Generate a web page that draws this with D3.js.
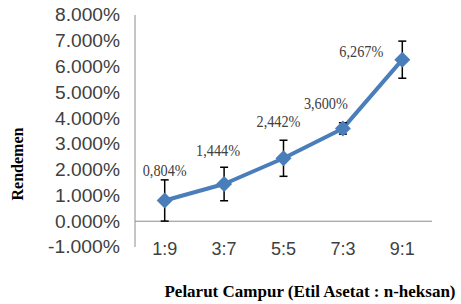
<!DOCTYPE html>
<html><head><meta charset="utf-8">
<script src="https://cdn.jsdelivr.net/npm/d3@7"></script>
<style>body{margin:0;background:#fff}svg{display:block}</style>
</head><body>
<svg id="c" width="461" height="304"></svg>
<script>
const categories = ["1:9","3:7","5:5","7:3","9:1"];
const values = [0.804, 1.444, 2.442, 3.600, 6.267];
const errors = [0.80, 0.65, 0.70, 0.22, 0.72];
const valueLabels = ["0,804%","1,444%","2,442%","3,600%","6,267%"];
const yTicks = [-1,0,1,2,3,4,5,6,7,8];
const labelOffsets = [[0,-24],[-6,-28],[-5,-31],[-17,-19],[-41,-3]];

const svg = d3.select("#c");
const x = d3.scaleBand().domain(categories).range([135,432]);
const y = d3.scaleLinear().domain([-1,8]).range([247,15]);
const col = "#4a7ebb";
const sans = "'Liberation Sans', Arial, sans-serif";
const serif = "'Liberation Serif', 'Times New Roman', serif";
const fmt = d3.formatLocale({decimal:".",thousands:",",grouping:[3],currency:["",""],minus:"-"}).format(".3f");

// y axis
svg.append("line").attr("x1",135).attr("x2",135).attr("y1",y(8)).attr("y2",y(-1))
  .attr("stroke","#8c8c8c").attr("stroke-width",1);
svg.append("g").selectAll("text").data(yTicks).join("text")
  .attr("x",120).attr("y",d=>y(d)).attr("dy","0.36em").attr("text-anchor","end")
  .attr("font-family",sans).attr("font-size",18).attr("fill","#404040")
  .attr("textLength",d=>d<0?72:65).attr("lengthAdjust","spacingAndGlyphs")
  .text(d=>fmt(d)+"%");
// x axis line at 0
svg.append("line").attr("x1",135).attr("x2",432).attr("y1",y(0)).attr("y2",y(0))
  .attr("stroke","#8c8c8c").attr("stroke-width",1);
svg.append("g").selectAll("text").data(categories).join("text")
  .attr("x",d=>x(d)+x.bandwidth()/2).attr("y",248.5).attr("dy","0.36em").attr("text-anchor","middle")
  .attr("font-family",sans).attr("font-size",18).attr("fill","#404040")
  .text(d=>d);

const cx = (d,i)=>x(categories[i])+x.bandwidth()/2;
// line
const line = d3.line().x((d,i)=>cx(d,i)).y(d=>y(d));
svg.append("path").datum(values).attr("d",line).attr("fill","none")
  .attr("stroke",col).attr("stroke-width",4).attr("stroke-linejoin","round");

// error bars
const eb = svg.append("g").attr("stroke","#000").attr("stroke-width",1.5);
values.forEach((v,i)=>{
  const px = cx(v,i);
  eb.append("line").attr("x1",px).attr("x2",px).attr("y1",y(v+errors[i])).attr("y2",y(v-errors[i]));
  eb.append("line").attr("x1",px-4).attr("x2",px+4).attr("y1",y(v+errors[i])).attr("y2",y(v+errors[i]));
  eb.append("line").attr("x1",px-4).attr("x2",px+4).attr("y1",y(v-errors[i])).attr("y2",y(v-errors[i]));
});

// markers
svg.append("g").selectAll("path").data(values).join("path")
  .attr("transform",(d,i)=>`translate(${cx(d,i)},${y(d)})`)
  .attr("d","M0,-8L8,0L0,8L-8,0Z").attr("fill",col);

// data labels
svg.append("g").selectAll("text").data(values).join("text")
  .attr("x",(d,i)=>cx(d,i)+labelOffsets[i][0]).attr("y",(d,i)=>y(d)+labelOffsets[i][1])
  .attr("text-anchor","middle").attr("font-family",serif).attr("font-size",16)
  .attr("textLength",44).attr("lengthAdjust","spacingAndGlyphs")
  .attr("fill","#404040").text((d,i)=>valueLabels[i]);

// axis titles
svg.append("text").attr("transform","translate(23,164) rotate(-90)").attr("text-anchor","middle")
  .attr("font-family",serif).attr("font-weight","bold").attr("font-size",16)
  .attr("fill","#000").text("Rendemen");
svg.append("text").attr("x",310).attr("y",297).attr("text-anchor","middle")
  .attr("font-family",serif).attr("font-weight","bold").attr("font-size",17)
  .attr("fill","#000").text("Pelarut Campur (Etil Asetat : n-heksan)");
</script>
</body></html>
